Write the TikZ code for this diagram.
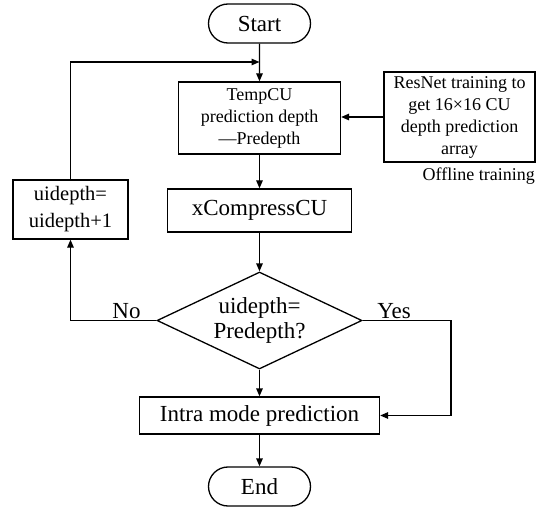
\documentclass[tikz,border=0pt]{standalone}
\usepackage{fontspec}
\setmainfont{Liberation Serif}
\usetikzlibrary{shapes.geometric,shapes.misc,arrows.meta}
\begin{document}
\begin{tikzpicture}[x=1pt,y=-1pt,
  line width=1.3pt,
  big/.style={font=\fontsize{23}{25}\selectfont},
  small/.style={font=\fontsize{18}{22}\selectfont},
  box/.style={draw,rectangle,inner sep=0pt,align=center},
  pill/.style={draw,rounded rectangle,inner sep=0pt,minimum width=102pt,minimum height=39pt,big},
  arr/.style={-{Triangle[length=8pt,width=6.5pt]}},
  lbl/.style={inner sep=0pt,big}]
\useasboundingbox (0,0) rectangle (536,508);
\node[pill] (start) at (259.5,23.5) {Start};
\node[box,small,minimum width=162pt,minimum height=72pt] (temp) at (259.5,118) {TempCU\\prediction depth\\—Predepth};
\node[box,small,minimum width=151pt,minimum height=90pt] (res) at (459.5,117) {ResNet training to\\get 16×16 CU\\depth prediction\\array};
\node[inner sep=0pt,small,anchor=base east] (off) at (535.5,181) {Offline training};
\node[box,big,minimum width=184pt,minimum height=43pt] (xc) at (259.5,210.5) {xCompressCU};
\node[box,font=\fontsize{20.5}{27}\selectfont,minimum width=115pt,minimum height=59pt] (ui) at (70.5,209.5) {uidepth=\\uidepth+1};
\node[draw,diamond,big,align=center,inner sep=0pt,shape aspect=2.1,minimum width=205pt,minimum height=97pt] (dia) at (259.5,320.5) {uidepth=\\Predepth?};
\node[box,big,minimum width=240pt,minimum height=37pt] (intra) at (259.5,415.5) {Intra mode prediction};
\node[pill] (end) at (259.5,486.5) {End};
\node[lbl,anchor=base] (no) at (126.5,318) {No};
\node[lbl,anchor=base] (yes) at (394,318) {Yes};
\coordinate (join) at (259.5,62);
\coordinate (rt) at (451,320.5);
\draw[arr] (start) -- (temp);
\draw[arr] (ui.north) |- (join);
\draw[arr] (res.west) -- (res.west -| temp.east);
\draw[arr] (temp) -- (xc);
\draw[arr] (xc) -- (dia.north);
\draw[arr] (dia.west) -| (ui.south);
\draw[arr] (dia.east) -- (rt) |- (intra.east);
\draw[arr] (dia.south) -- (intra.north);
\draw[arr] (intra) -- (end);
\end{tikzpicture}
\end{document}
